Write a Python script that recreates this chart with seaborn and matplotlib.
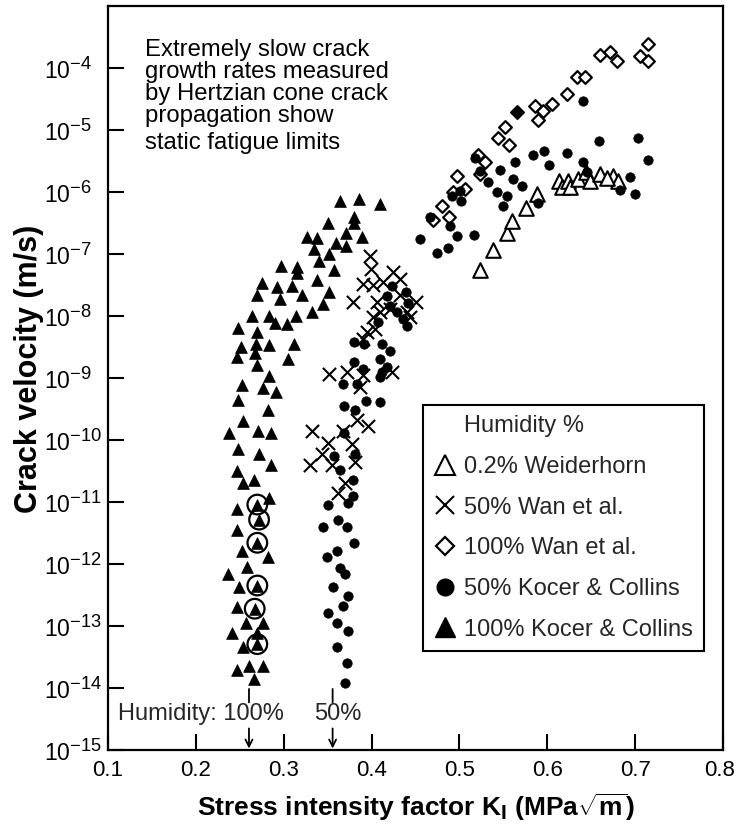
import numpy as np
import pandas as pd
import matplotlib
matplotlib.use("Agg")
import matplotlib.pyplot as plt
import matplotlib._mathtext as _mt
import seaborn as sns
from matplotlib.lines import Line2D
from matplotlib.ticker import FixedLocator, FuncFormatter, NullLocator
from matplotlib.transforms import ScaledTranslation

# ---------------- data (K in MPa*sqrt(m), v in m/s) ----------------
# 0.2 % humidity, Weiderhorn (open triangles)
wd02_k = [0.523, 0.538, 0.554, 0.560, 0.576, 0.588, 0.613, 0.617, 0.624, 0.626,
          0.635, 0.644, 0.649, 0.660, 0.675, 0.681, 0.668]
wd02_v = [5.5e-8, 1.15e-7, 2.2e-7, 3.4e-7, 5.5e-7, 9.3e-7, 1.5e-6, 1.2e-6, 1.5e-6, 1.2e-6,
          1.6e-6, 2.1e-6, 1.5e-6, 1.95e-6, 1.8e-6, 1.5e-6, 1.7e-6]

# 50 % humidity, Wan et al. (crosses)
wan50_k = [0.398, 0.399, 0.390, 0.424, 0.413, 0.402, 0.379, 0.406, 0.432, 0.451,
           0.410, 0.444, 0.402, 0.395, 0.404, 0.421, 0.390, 0.440, 0.432, 0.352,
           0.372, 0.390, 0.423, 0.387, 0.332, 0.368, 0.383, 0.396, 0.350, 0.378,
           0.330, 0.344, 0.355, 0.381, 0.370, 0.362]
wan50_v = [9.2e-8, 5.7e-8, 3.3e-8, 5.1e-8, 3.5e-8, 3.2e-8, 1.7e-8, 1.66e-8, 2.2e-8, 1.7e-8,
           1.15e-8, 9.5e-9, 9.5e-9, 5.5e-9, 6.1e-9, 1.29e-8, 4.2e-9, 1.15e-8, 3.9e-8, 1.18e-9,
           1.23e-9, 1.1e-9, 1.23e-9, 7.1e-10, 1.38e-10, 1.38e-10, 2.1e-10, 1.66e-10, 9.1e-11, 8.7e-11,
           4.0e-11, 6.0e-11, 3.9e-11, 4.5e-11, 2.0e-11, 1.4e-11]

# 100 % humidity, Wan et al. (open diamonds)
wan100_k = [0.715, 0.706, 0.715, 0.660, 0.671, 0.679, 0.634, 0.643, 0.622, 0.605,
            0.586, 0.595, 0.589, 0.566, 0.552, 0.544, 0.556, 0.521, 0.529, 0.523,
            0.497, 0.506, 0.493, 0.480, 0.488, 0.470]
wan100_v = [2.45e-4, 1.58e-4, 1.3e-4, 1.6e-4, 1.8e-4, 1.3e-4, 7.2e-5, 7.2e-5, 3.8e-5, 2.6e-5,
            2.4e-5, 2.0e-5, 1.45e-5, 1.95e-5, 1.12e-5, 7.4e-6, 5.7e-6, 4.0e-6, 3.0e-6, 1.95e-6,
            1.8e-6, 1.12e-6, 1.0e-6, 5.9e-7, 3.9e-7, 3.6e-7]

# 50 % humidity, Kocer & Collins (filled circles)
kc50_k = [0.518, 0.501, 0.467, 0.489, 0.455, 0.497, 0.475, 0.487, 0.517, 0.641,
          0.659, 0.703, 0.715, 0.596, 0.584, 0.563, 0.546, 0.602, 0.622, 0.641,
          0.561, 0.571, 0.543, 0.554, 0.550, 0.589, 0.566, 0.533, 0.523, 0.492,
          0.502, 0.694, 0.683, 0.700, 0.645, 0.418, 0.439, 0.421, 0.429, 0.440,
          0.407, 0.380, 0.391, 0.412, 0.421, 0.410, 0.380, 0.390, 0.412, 0.418,
          0.368, 0.383, 0.410, 0.394, 0.410, 0.369, 0.381, 0.369, 0.357, 0.381,
          0.364, 0.379, 0.379, 0.350, 0.373, 0.362, 0.372, 0.345, 0.423, 0.442,
          0.436, 0.380, 0.349, 0.361, 0.364, 0.370, 0.356, 0.373, 0.368, 0.350,
          0.361, 0.373, 0.361, 0.372, 0.370]
kc50_v = [3.6e-6, 1.03e-6, 3.9e-7, 2.8e-7, 1.74e-7, 1.95e-7, 1.03e-7, 1.23e-7, 2.0e-7, 2.95e-5,
          6.6e-6, 7.4e-6, 3.3e-6, 4.6e-6, 4.0e-6, 3.0e-6, 2.3e-6, 2.7e-6, 4.3e-6, 3.0e-6,
          1.6e-6, 1.25e-6, 1.0e-6, 8.6e-7, 5.9e-7, 6.6e-7, 1.95e-5, 1.45e-6, 2.2e-6, 8.6e-7,
          7.1e-7, 1.74e-6, 1.07e-6, 9.3e-7, 2.1e-6, 2.1e-8, 2.4e-8, 1.44e-8, 1.15e-8, 6.8e-9,
          7.9e-9, 3.8e-9, 3.5e-9, 3.5e-9, 2.7e-9, 2.0e-9, 1.8e-9, 1.38e-9, 1.23e-9, 1.48e-9,
          7.9e-10, 7.9e-10, 1.02e-9, 4.2e-10, 4.1e-10, 3.5e-10, 3.0e-10, 1.32e-10, 5.6e-11, 6.0e-11,
          3.3e-11, 2.3e-11, 1.23e-11, 9.1e-12, 9.8e-12, 5.2e-12, 4.0e-12, 4.0e-12, 3.0e-8, 1.6e-8,
          8.9e-9, 2.2e-12, 1.3e-12, 1.6e-12, 8.7e-13, 6.9e-13, 4.2e-13, 3.1e-13, 2.1e-13, 1.6e-13,
          1.1e-13, 8.3e-14, 4.6e-14, 2.5e-14, 1.2e-14]

# 100 % humidity, Kocer & Collins (filled triangles)
kc100_k = [0.364, 0.386, 0.410, 0.350, 0.380, 0.380, 0.327, 0.338, 0.371, 0.389,
           0.360, 0.371, 0.335, 0.352, 0.340, 0.357, 0.297, 0.315, 0.315, 0.338,
           0.275, 0.292, 0.309, 0.270, 0.321, 0.352, 0.296, 0.345, 0.332, 0.314,
           0.304, 0.290, 0.283, 0.264, 0.248, 0.270, 0.269, 0.251, 0.283, 0.312,
           0.247, 0.267, 0.270, 0.305, 0.283, 0.253, 0.276, 0.291, 0.248, 0.282,
           0.254, 0.238, 0.271, 0.286, 0.248, 0.272, 0.286, 0.247, 0.266, 0.254,
           0.283, 0.270, 0.247, 0.272, 0.247, 0.270, 0.253, 0.282, 0.258, 0.237,
           0.249, 0.270, 0.247, 0.267, 0.276, 0.257, 0.241, 0.270, 0.254, 0.270,
           0.247, 0.261, 0.276, 0.266]
kc100_v = [7.1e-7, 7.8e-7, 6.3e-7, 3.2e-7, 3.9e-7, 3.2e-7, 1.9e-7, 1.8e-7, 2.2e-7, 1.9e-7,
           1.5e-7, 1.35e-7, 1.2e-7, 1.0e-7, 7.6e-8, 5.5e-8, 6.3e-8, 6.2e-8, 4.9e-8, 3.8e-8,
           3.4e-8, 2.9e-8, 3.0e-8, 2.2e-8, 2.2e-8, 2.4e-8, 1.9e-8, 1.55e-8, 1.15e-8, 1.0e-8,
           7.4e-9, 7.6e-9, 1.0e-8, 1.0e-8, 6.3e-9, 5.5e-9, 3.6e-9, 3.2e-9, 3.4e-9, 3.5e-9,
           2.2e-9, 2.5e-9, 1.6e-9, 2.0e-9, 1.07e-9, 7.6e-10, 6.8e-10, 5.9e-10, 4.5e-10, 3.0e-10,
           2.0e-10, 1.3e-10, 1.4e-10, 1.3e-10, 7.1e-11, 5.9e-11, 3.9e-11, 3.2e-11, 2.3e-11, 2.0e-11,
           1.17e-11, 9.1e-12, 7.8e-12, 5.2e-12, 3.5e-12, 2.2e-12, 1.6e-12, 1.3e-12, 9.1e-13, 6.8e-13,
           4.2e-13, 4.5e-13, 2.0e-13, 1.9e-13, 1.1e-13, 1.1e-13, 7.8e-14, 7.8e-14, 4.6e-14, 5.1e-14,
           1.95e-14, 2.3e-14, 2.3e-14, 1.4e-14]

# circled (static-fatigue) points of the 100 % Kocer & Collins set
ring_k = [0.270, 0.272, 0.270, 0.270, 0.267, 0.270]
ring_v = [9.1e-12, 5.2e-12, 2.2e-12, 4.5e-13, 1.9e-13, 5.1e-14]

legend_labels = ["Humidity %", "0.2% Weiderhorn", "50% Wan et al.", "100% Wan et al.",
                 "50% Kocer & Collins", "100% Kocer & Collins"]
x_ticks = [0.1, 0.2, 0.3, 0.4, 0.5, 0.6, 0.7, 0.8]
y_exponents = [-15, -14, -13, -12, -11, -10, -9, -8, -7, -6, -5, -4]
fatigue_limits = {"100%": 0.2605, "50%": 0.3557}

# ---------------- style ----------------
sns.set_style("ticks")
plt.rcParams["font.family"] = ["Liberation Sans", "DejaVu Sans"]
plt.rcParams["mathtext.fontset"] = "custom"
plt.rcParams["mathtext.rm"] = "Liberation Sans"
plt.rcParams["mathtext.bf"] = "Liberation Sans:bold"
plt.rcParams["mathtext.it"] = "Liberation Sans:italic"
plt.rcParams["mathtext.default"] = "regular"
_mt.SHRINK_FACTOR = 0.8  # larger exponents, as in the reference

fig = plt.figure(figsize=(7.36, 8.26), dpi=100)
ax = fig.add_axes([0.1467, 0.092, 0.8356, 0.9007])


def draw(k, v, **kw):
    df = pd.DataFrame({"K": k, "v": v})
    sns.scatterplot(data=df, x="K", y="v", ax=ax, legend=False, zorder=3, **kw)


draw(wd02_k, wd02_v, marker="^", s=110, facecolor="white", edgecolor="black", linewidth=1.5, color="black")
draw(wan100_k, wan100_v, marker="D", s=42, facecolor="white", edgecolor="black", linewidth=1.6, color="black")
draw(wan50_k, wan50_v, marker="x", s=90, linewidth=1.5, color="black")
draw(kc50_k, kc50_v, marker="o", s=46, color="black", edgecolor="black", linewidth=0.5)
draw(kc100_k, kc100_v, marker="^", s=72, color="black", edgecolor="black", linewidth=0.5)
draw(ring_k, ring_v, marker="o", s=200, facecolor="none", edgecolor="black", linewidth=1.6, color="black")

ax.set_yscale("log")
ax.set_xlim(0.1, 0.8)
ax.set_ylim(1e-15, 1e-3)

ax.xaxis.set_major_locator(FixedLocator(x_ticks))
ax.xaxis.set_major_formatter(FuncFormatter(lambda x, p: "%.1f" % x))
ax.yaxis.set_major_locator(FixedLocator([10.0 ** e for e in y_exponents]))
ax.yaxis.set_major_formatter(FuncFormatter(lambda y, p: r"$10^{%d}$" % int(round(np.log10(y)))))
ax.yaxis.set_minor_locator(NullLocator())
ax.xaxis.set_minor_locator(NullLocator())
ax.tick_params(axis="both", which="major", direction="in", length=11.5, width=1.5,
               color="black", labelcolor="black", top=False, right=False)
ax.tick_params(axis="x", pad=7, labelsize=16)
ax.tick_params(axis="y", pad=46, labelsize=16.5)
for lab in ax.get_yticklabels():
    lab.set_horizontalalignment("left")
xlabs = ax.get_xticklabels()
xlabs[-1].set_transform(xlabs[-1].get_transform() + ScaledTranslation(-3 / 100, 0, fig.dpi_scale_trans))
for sp in ax.spines.values():
    sp.set_linewidth(1.6)
    sp.set_color("black")

ax.set_xlabel(r"Stress intensity factor K$_\mathbf{I}$ (MPa$\sqrt{\mathbf{m}}$)",
              fontsize=19, fontweight="bold", color="black")
ax.xaxis.set_label_coords(0.500, -0.056)
ax.set_ylabel("Crack velocity (m/s)", fontsize=22, fontweight="bold", color="black")
ax.yaxis.set_label_coords(-0.104, 0.512)

ax.text(0.06, 0.956,
        "Extremely slow crack\ngrowth rates measured\nby Hertzian cone crack\npropagation show",
        transform=ax.transAxes, fontsize=17.2, ha="left", va="top", linespacing=1.0, color="black")
ax.text(0.06, 0.831, "static fatigue limits",
        transform=ax.transAxes, fontsize=17.2, ha="left", va="top", color="black")

# humidity markers at the bottom
xt = ax.get_xaxis_transform()
ax.text(0.1114, 0.049, "Humidity: 100%", transform=xt, fontsize=17, ha="left", va="center")
ax.text(0.3618, 0.049, "50%", transform=xt, fontsize=17, ha="center", va="center")
for lab, kx in fatigue_limits.items():
    ax.annotate("", xy=(kx, 0.064), xytext=(kx, 0.082), xycoords=xt, textcoords=xt,
                arrowprops=dict(arrowstyle="-", lw=1.3, color="black", shrinkA=0, shrinkB=0))
    ax.annotate("", xy=(kx, 0.002), xytext=(kx, 0.029), xycoords=xt, textcoords=xt,
                arrowprops=dict(arrowstyle="->,head_length=0.5,head_width=0.25", lw=1.3,
                                color="black", shrinkA=0, shrinkB=0))

handles = [
    Line2D([], [], linestyle="none", marker=""),
    Line2D([], [], linestyle="none", marker="^", markersize=15, markerfacecolor="white",
           markeredgecolor="black", markeredgewidth=1.5),
    Line2D([], [], linestyle="none", marker="x", markersize=13, markeredgecolor="black",
           markeredgewidth=1.5),
    Line2D([], [], linestyle="none", marker="D", markersize=9, markerfacecolor="white",
           markeredgecolor="black", markeredgewidth=1.6),
    Line2D([], [], linestyle="none", marker="o", markersize=12, markerfacecolor="black",
           markeredgecolor="black"),
    Line2D([], [], linestyle="none", marker="^", markersize=15, markerfacecolor="black",
           markeredgecolor="black"),
]
leg = ax.legend(handles, legend_labels, loc="upper left", bbox_to_anchor=(0.512, 0.464),
                frameon=True, fancybox=False, edgecolor="black", framealpha=1,
                fontsize=17, borderpad=0.45, labelspacing=0.79, handlelength=1.0,
                handletextpad=0.3, borderaxespad=0, numpoints=1)
leg.get_frame().set_linewidth(1.5)

fig.savefig("out.png", dpi=100, facecolor="white")
